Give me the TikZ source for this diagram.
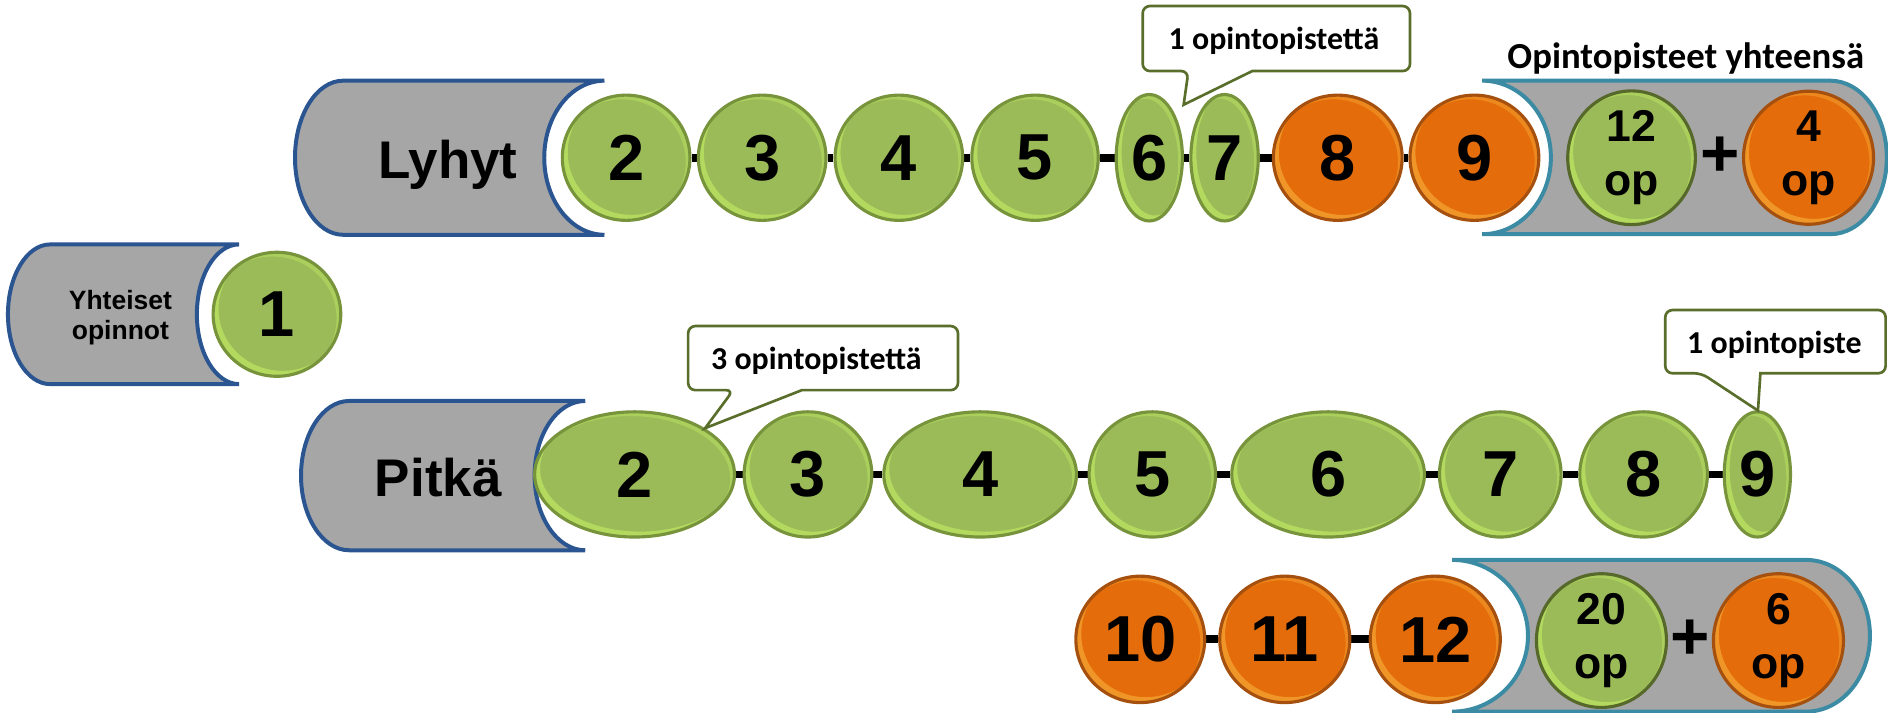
\documentclass[tikz,border=0pt]{standalone}
\usepackage{fontspec}
\setmainfont{Liberation Sans}
\newfontfamily\calfont{Carlito}
\usetikzlibrary{shapes.geometric,backgrounds,calc}
\definecolor{gfill}{HTML}{9BBB59}
\definecolor{gline}{HTML}{77933C}
\definecolor{gdark}{HTML}{56692A}
\definecolor{ofill}{HTML}{E46C0A}
\definecolor{oline}{HTML}{A5500E}
\definecolor{boxfill}{HTML}{A6A6A6}
\definecolor{blueline}{HTML}{2A5590}
\definecolor{tealline}{HTML}{3A8BA3}
\definecolor{callline}{HTML}{5A6E2C}
\begin{document}
\begin{tikzpicture}[x=1pt,y=-1pt,
  gloss/.style={path picture={
    \fill[#1, opacity=0.45, even odd rule]
      let \p1=(path picture bounding box.south west), \p2=(path picture bounding box.north east),
          \n1={(\x2-\x1)/2}, \n2={(\y2-\y1)/2} in
      (path picture bounding box.center) ellipse[x radius=\n1, y radius=\n2]
      ([xshift=4.5pt,yshift=4.5pt]path picture bounding box.center) ellipse[x radius=\n1, y radius=\n2];
    \fill[#1, opacity=0.3, even odd rule]
      let \p1=(path picture bounding box.south west), \p2=(path picture bounding box.north east),
          \n1={(\x2-\x1)/2}, \n2={(\y2-\y1)/2} in
      (path picture bounding box.center) ellipse[x radius=\n1, y radius=\n2]
      ([xshift=-3.5pt,yshift=-3.5pt]path picture bounding box.center) ellipse[x radius=\n1, y radius=\n2];
  }},
  ball/.style={ellipse, inner sep=0pt, line width=2.6pt, font=\bfseries\fontsize{54}{54}\selectfont},
  sz/.style 2 args={minimum width=#1pt, minimum height=#2pt},
  gball/.style={ball, draw=gline, fill=gfill, gloss={green!30!yellow!60!white}},
  oball/.style={ball, draw=oline, fill=ofill, gloss={orange!60!yellow!70!white}},
  sumg/.style={ball, draw=gdark, fill=gfill, gloss={green!30!yellow!60!white}, align=center, font=\bfseries\fontsize{37}{45}\selectfont},
  sumo/.style={ball, draw=oline, fill=ofill, gloss={orange!60!yellow!70!white}, align=center, font=\bfseries\fontsize{37}{45}\selectfont},
  plus/.style={font=\bfseries\fontsize{56}{56}\selectfont, inner sep=0pt},
  link/.style={line width=6.5pt, black},
  lbox/.style={draw=blueline, fill=boxfill, line width=3.3pt},
  sbox/.style={draw=tealline, fill=boxfill, line width=3.3pt},
  callbox/.style={draw=callline, fill=white, line width=2.2pt},
  calltext/.style={font=\calfont\bfseries\fontsize{26.5}{30}\selectfont, anchor=base, inner sep=0pt},
  boxtext/.style={font=\bfseries\fontsize{44}{44}\selectfont, anchor=base, inner sep=0pt},
]
\useasboundingbox (0,0) rectangle (1568,592);

% ---------- grey tube boxes ----------
\draw[lbox] (198.5,203) -- (41.6,203)
  arc[start angle=90, end angle=270, x radius=35pt, y radius=58pt] -- (198.5,319)
  arc[start angle=270, end angle=90, x radius=35pt, y radius=58pt] -- cycle;
\draw[lbox] (502,67) -- (285,67)
  arc[start angle=90, end angle=270, x radius=40pt, y radius=64pt] -- (502,195)
  arc[start angle=270, end angle=90, x radius=50pt, y radius=64pt] -- cycle;
\draw[lbox] (486,333) -- (290,333)
  arc[start angle=90, end angle=270, x radius=40pt, y radius=62pt] -- (486,457)
  arc[start angle=270, end angle=90, x radius=42pt, y radius=62pt] -- cycle;
\draw[sbox] (1231,67) -- (1520,67)
  arc[start angle=90, end angle=-90, x radius=47pt, y radius=63.75pt] -- (1231,194.5)
  arc[start angle=-90, end angle=90, x radius=57pt, y radius=63.75pt] -- cycle;
\draw[sbox] (1206,465) -- (1500,465)
  arc[start angle=90, end angle=-90, x radius=53pt, y radius=63pt] -- (1206,591)
  arc[start angle=-90, end angle=90, x radius=63pt, y radius=63pt] -- cycle;

\node[font=\bfseries\fontsize{22}{25}\selectfont, align=center, inner sep=0pt] (yt) at (100,264) {Yhteiset\\opinnot};
\node[boxtext] (lt) at (372,148) {Lyhyt};
\node[boxtext] (pt) at (364,412.5) {Pitkä};
\node[calltext, font=\calfont\bfseries\fontsize{30.5}{32}\selectfont] (tot) at (1400,56.7) {Opintopisteet yhteensä};

% ---------- common ----------
\node[gball, sz={106}{103}] (y1) at (230,261) {1};

% ---------- short row ----------
\node[gball, sz={106}{104}] (l2) at (520,131) {2};
\node[gball, sz={106}{104}] (l3) at (633,131) {3};
\node[gball, sz={106}{104}] (l4) at (746.5,131) {4};
\node[gball, sz={105}{104}] (l5) at (859.6,131) {5};
\node[gball, sz={55}{105}] (l6) at (954.5,131) {6};
\node[gball, sz={56}{105}] (l7) at (1017,131) {7};
\node[oball, sz={107}{104}] (l8) at (1111,131) {8};
\node[oball, sz={107}{104}] (l9) at (1224.5,131) {9};
\node[sumg, sz={106}{104}] (ls1) at (1355,131) {12\\op};
\node[plus] (lp) at (1428.6,130.5) {+};
\node[sumo, sz={108}{104}] (ls2) at (1502,131) {4\\op};

% ---------- long row ----------
\node[gball, sz={166}{104}] (p2) at (527,394) {2};
\node[gball, sz={106}{104}] (p3) at (671,394) {3};
\node[gball, sz={160}{104}] (p4) at (814,394) {4};
\node[gball, sz={105}{104}] (p5) at (957,394) {5};
\node[gball, sz={160}{104}] (p6) at (1103,394) {6};
\node[gball, sz={101}{104}] (p7) at (1246,394) {7};
\node[gball, sz={106}{104}] (p8) at (1365,394) {8};
\node[gball, sz={55}{104}] (p9) at (1459.5,394) {9};

\node[oball, sz={107}{105}] (p10) at (947,531) {10};
\node[oball, sz={108}{105}] (p11) at (1067,531) {11};
\node[oball, sz={108}{105}] (p12) at (1192,531) {12};
\node[sumg, sz={108}{105}] (ps1) at (1330,532) {20\\op};
\node[plus] (pp) at (1403.6,531) {+};
\node[sumo, sz={108}{105}] (ps2) at (1477,532) {6\\op};

% ---------- connectors ----------
\begin{scope}[on background layer]
\draw[link] (l2) -- (l3);
\draw[link] (l3) -- (l4);
\draw[link] (l4) -- (l5);
\draw[link] (l5) -- (l6);
\draw[link] (l6) -- (l7);
\draw[link] (l7) -- (l8);
\draw[link] (l8) -- (l9);
\draw[link] (p2) -- (p3);
\draw[link] (p3) -- (p4);
\draw[link] (p4) -- (p5);
\draw[link] (p5) -- (p6);
\draw[link] (p6) -- (p7);
\draw[link] (p7) -- (p8);
\draw[link] (p8) -- (p9);
\draw[link] (p10) -- (p11);
\draw[link] (p11) -- (p12);
\end{scope}

% ---------- callouts ----------
\coordinate (t1) at (983,87);
\draw[callbox] (987,59) -- (t1) -- (1040,59) [rounded corners=6pt] -- (1171,59) -- (1171,5) -- (949,5) -- (949,59) -- cycle;
\node[calltext] (c1) at (1058,41) {1 opintopistettä};

\coordinate (t2) at (585.6,355.6);
\draw[callbox] (609,324) -- (t2) -- (666,324) [rounded corners=6pt] -- (795.6,324) -- (795.6,270.8) -- (571.5,270.8) -- (571.5,324) -- cycle;
\node[calltext] (c2) at (678,306.6) {3 opintopistettä};

\coordinate (t3) at (1460,341);
\draw[callbox] (1413,310) -- (t3) -- (1462,310) [rounded corners=6pt] -- (1566,310) -- (1566,257.5) -- (1383,257.5) -- (1383,310) -- cycle;
\node[calltext] (c3) at (1473.6,293.6) {1 opintopiste};
\end{tikzpicture}
\end{document}
